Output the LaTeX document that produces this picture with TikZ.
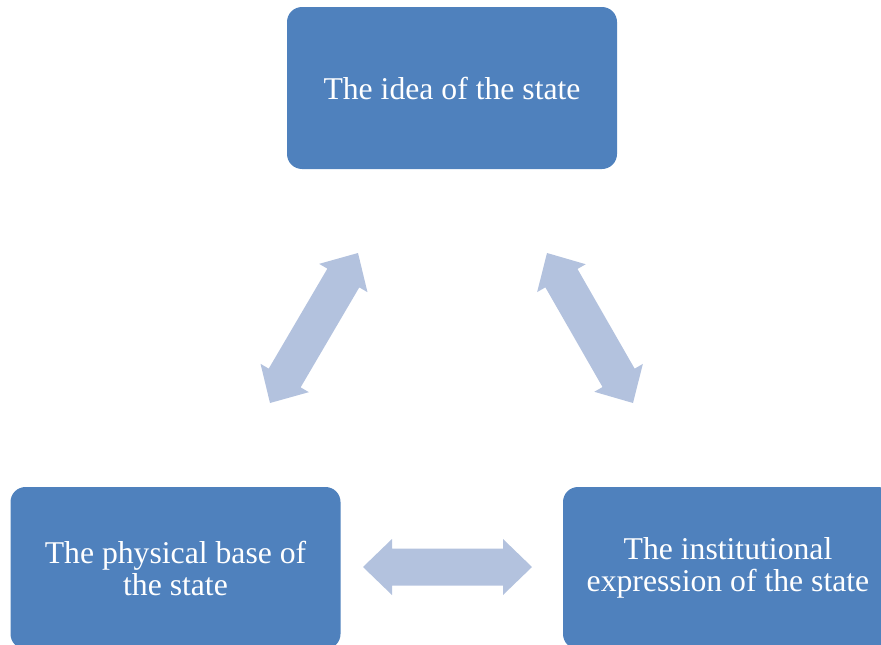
\documentclass[tikz,border=0pt]{standalone}
\usepackage{fontspec}
\setmainfont{Liberation Serif}
\usetikzlibrary{calc}
\definecolor{boxblue}{RGB}{79,129,189}
\definecolor{arrowblue}{RGB}{179,194,222}
\tikzset{
  statebox/.style={fill=boxblue, draw=none, rounded corners=15pt,
    minimum width=330pt, minimum height=162pt, text=white, align=center,
    font=\fontsize{31.7pt}{32pt}\selectfont, inner sep=0pt},
  blockarrow/.style={fill=arrowblue, draw=none}
}
\newcommand\dblarrow[2]{%
  \coordinate (HA) at ($(#1)!29pt!(#2)$);
  \coordinate (HB) at ($(#2)!29pt!(#1)$);
  \fill[blockarrow] (#1) -- ($(HA)!28pt!90:(#2)$) -- ($(HA)!18.5pt!90:(#2)$)
    -- ($(HB)!18.5pt!-90:(#1)$) -- ($(HB)!28pt!-90:(#1)$) -- (#2)
    -- ($(HB)!28pt!90:(#1)$) -- ($(HB)!18.5pt!90:(#1)$)
    -- ($(HA)!18.5pt!-90:(#2)$) -- ($(HA)!28pt!-90:(#2)$) -- cycle;
}
\begin{document}
\begin{tikzpicture}[x=1pt,y=-1pt]
\useasboundingbox (0,0) rectangle (881,645);
\clip (0,0) rectangle (881,645);
\node[statebox] (idea) at (452,88) {The idea of the state};
\node[statebox] (phys) at (175.5,568) {The physical base of\\the state};
\node[statebox] (inst) at (728,568) {The institutional\\expression of the state};
\coordinate (l1) at (270,403);
\coordinate (l2) at (358,253);
\coordinate (r1) at (547,253);
\coordinate (r2) at (633,403);
\coordinate (h1) at (363,567);
\coordinate (h2) at (532,567);
\dblarrow{l1}{l2}
\dblarrow{r1}{r2}
\dblarrow{h1}{h2}
\end{tikzpicture}
\end{document}
